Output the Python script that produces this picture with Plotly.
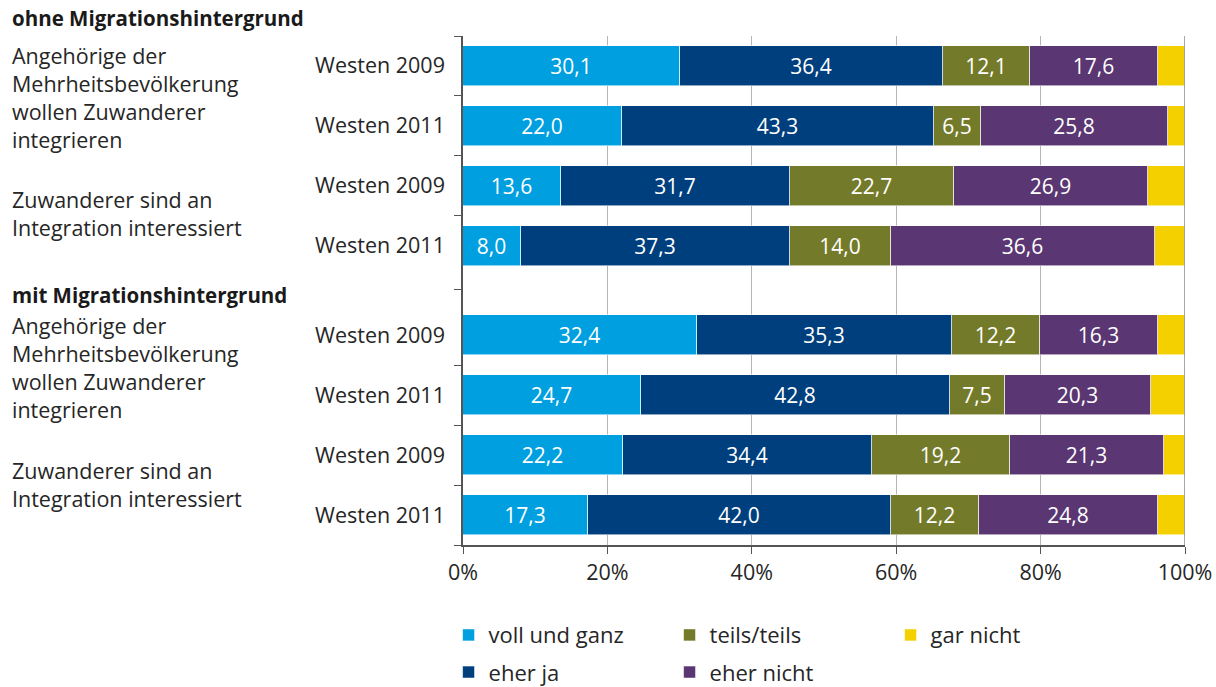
import plotly.graph_objects as go

row_labels = ["Westen 2009", "Westen 2011", "Westen 2009", "Westen 2011",
              "Westen 2009", "Westen 2011", "Westen 2009", "Westen 2011"]
voll_und_ganz = [30.1, 22.0, 13.6, 8.0, 32.4, 24.7, 22.2, 17.3]
eher_ja = [36.4, 43.3, 31.7, 37.3, 35.3, 42.8, 34.4, 42.0]
teils_teils = [12.1, 6.5, 22.7, 14.0, 12.2, 7.5, 19.2, 12.2]
eher_nicht = [17.6, 25.8, 26.9, 36.6, 16.3, 20.3, 21.3, 24.8]
gar_nicht = [3.8, 2.4, 5.1, 4.1, 3.8, 4.7, 2.9, 3.7]

series_names = ["voll und ganz", "eher ja", "teils/teils", "eher nicht", "gar nicht"]
x_tick_values = [0, 20, 40, 60, 80, 100]
x_tick_labels = ["0%", "20%", "40%", "60%", "80%", "100%"]
group_titles = ["ohne Migrationshintergrund", "mit Migrationshintergrund"]
item_texts = ["Angehörige der<br>Mehrheitsbevölkerung<br>wollen Zuwanderer<br>integrieren",
              "Zuwanderer sind an<br>Integration interessiert"]

# layout positions (row slots with a gap between the two groups)
y_pos = [0, 1, 2, 3, 4.5, 5.5, 6.5, 7.5]
boundaries = [-0.5, 0.5, 1.5, 2.5, 3.73, 5.0, 6.0, 7.0, 8.0]

colors = ["#009FDF", "#003F7D", "#737B2A", "#5A3672", "#F5D000"]
legend_ids = ["legend", "legend2", "legend", "legend2", "legend"]
FONT = "Open Sans"
TXT = "#262626"

fig = go.Figure()
all_series = [voll_und_ganz, eher_ja, teils_teils, eher_nicht, gar_nicht]
for i, (name, vals) in enumerate(zip(series_names, all_series)):
    labels = [f"{v:.1f}".replace(".", ",") for v in vals] if i < 4 else None
    fig.add_trace(go.Bar(
        name=name, y=y_pos, x=vals, orientation="h",
        marker=dict(color=colors[i], line=dict(color="rgba(255,255,255,0.55)", width=1)),
        text=labels, textposition="inside" if labels else "none",
        insidetextanchor="middle",
        textfont=dict(color="white", size=21, family=FONT),
        width=0.667, legend=legend_ids[i], hoverinfo="skip",
    ))

legend_common = dict(orientation="h", xanchor="left", yanchor="middle",
                     entrywidth=176, entrywidthmode="pixels",
                     font=dict(family=FONT, size=22, color=TXT),
                     traceorder="normal", itemwidth=30, bgcolor="rgba(0,0,0,0)")

fig.update_layout(
    barmode="stack",
    width=1216, height=687,
    margin=dict(l=463, r=31, t=36, b=142, autoexpand=False),
    plot_bgcolor="white", paper_bgcolor="white",
    font=dict(family=FONT, size=21.5, color=TXT),
    uniformtext=dict(minsize=21, mode="show"),
    bargap=0,
    legend=dict(x=-0.02, y=-0.177, **legend_common),
    legend2=dict(x=-0.02, y=-0.25, **legend_common),
    showlegend=True,
)

fig.update_xaxes(
    range=[0, 100], tickvals=x_tick_values, ticktext=x_tick_labels,
    showgrid=True, gridcolor="#b5b5b5", gridwidth=1,
    showline=True, linecolor="#555555", linewidth=1.5,
    ticks="outside", ticklen=7, tickcolor="#555555",
    tickfont=dict(size=21.5, color=TXT), zeroline=False, automargin=False,
)
fig.update_yaxes(
    range=[8.0, -0.5], tickvals=y_pos, ticktext=row_labels,
    showgrid=False, zeroline=False,
    showline=True, linecolor="#555555", linewidth=1.5,
    ticks="", ticklabelstandoff=12, automargin=False,
    tickfont=dict(size=21.5, color=TXT),
    minor=dict(tickvals=boundaries, ticks="outside", ticklen=7, tickcolor="#555555", showgrid=False),
)

# right border at 100%
fig.add_shape(type="line", xref="x", yref="paper", x0=100, x1=100, y0=0, y1=1,
              line=dict(color="#8a8a8a", width=1.5))

ann_specs = [
    (group_titles[0], -0.8, True),
    (item_texts[0], 0.53, False),
    (item_texts[1], 2.47, False),
    (group_titles[1], 3.82, True),
    (item_texts[0], 5.04, False),
    (item_texts[1], 6.99, False),
]
for text, yv, bold in ann_specs:
    # convert row-slot position to paper fraction (range 8.0 .. -0.5)
    yp = (8.0 - yv) / 8.5
    fig.add_annotation(
        text=f"<b>{text}</b>" if bold else text,
        xref="paper", yref="paper", x=-0.6274, y=yp, xanchor="left", yanchor="middle",
        align="left", showarrow=False,
        font=dict(family=FONT, size=20.5 if bold else 21.5, color="#1a1a1a" if bold else TXT),
    )

fig.write_html("out.html", config={"displayModeBar": False},
               post_script="document.body.style.margin='0';document.body.style.padding='0';")
